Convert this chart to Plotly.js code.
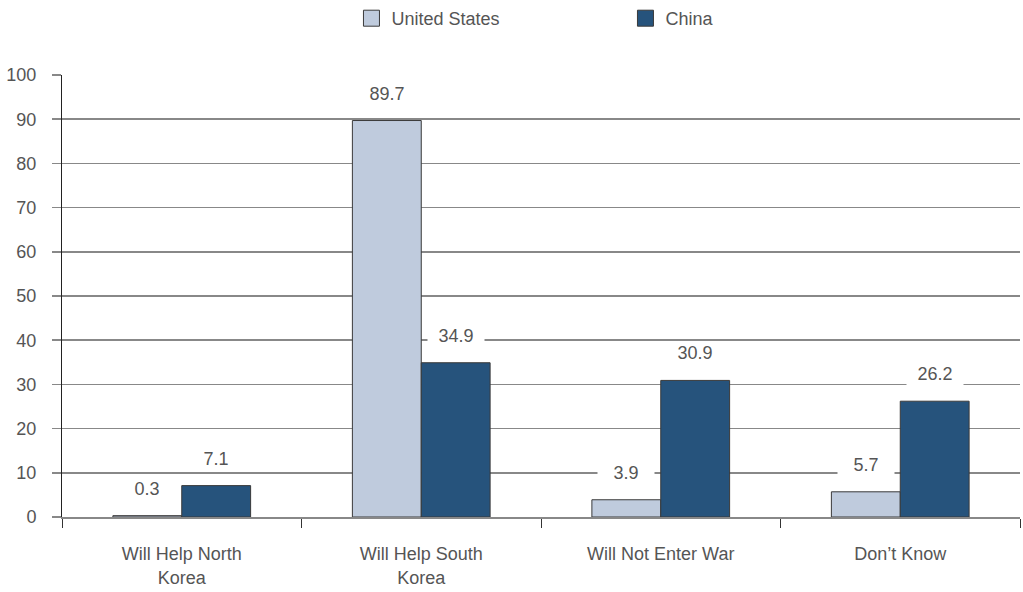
<!DOCTYPE html>
<html><head><meta charset="utf-8">
<script src="https://cdn.plot.ly/plotly-3.0.1.min.js"></script>
<style>html,body{margin:0;padding:0;background:#fff}</style>
</head><body><div id="chart" style="width:1023px;height:592px"></div>
<script>
const categories = ["Will Help North<br>Korea", "Will Help South<br>Korea", "Will Not Enter War", "Don\u2019t Know"];
const usValues = [0.3, 89.7, 3.9, 5.7];
const chinaValues = [7.1, 34.9, 30.9, 26.2];
const seriesNames = ["United States", "China"];
const colors = ["#bfcbdd", "#26537c"];
const textColor = "#555555";
const fontFam = "Liberation Sans, Arial, sans-serif";

const traces = [
  {type:"bar", name:seriesNames[0], x:categories, y:usValues, marker:{color:colors[0], line:{color:"#3a3a3a", width:1}}, showlegend:false, hoverinfo:"none"},
  {type:"bar", name:seriesNames[1], x:categories, y:chinaValues, marker:{color:colors[1], line:{color:"#3a3a3a", width:1}}, showlegend:false, hoverinfo:"none"},
  {type:"scatter", mode:"markers", name:seriesNames[0], x:[null], y:[null], marker:{symbol:"square", size:17, color:colors[0], line:{color:"#3a3a3a", width:1}}},
  {type:"scatter", mode:"markers", name:seriesNames[1], x:[null], y:[null], marker:{symbol:"square", size:17, color:colors[1], line:{color:"#3a3a3a", width:1}}}
];

const annotations = [];
[usValues, chinaValues].forEach((vals, s) => {
  vals.forEach((v, i) => {
    annotations.push({
      x: categories[i], y: v, xref:"x", yref:"y",
      text: v.toFixed(1), showarrow:false,
      xshift: s === 0 ? -34.5 : 34.5, yshift: 27, yanchor:"middle",
      width:56, height:22, align:"center", valign:"middle",
      bgcolor:"#ffffff", borderpad:0,
      font:{family:fontFam, size:18, color:textColor}
    });
  });
});

const layout = {
  width:1023, height:592,
  margin:{l:62, r:3, t:75, b:75},
  paper_bgcolor:"#fff", plot_bgcolor:"#fff",
  font:{family:fontFam, size:18, color:textColor},
  barmode:"group", bargap:0.425, bargroupgap:0,
  showlegend:true,
  legend:{orientation:"h", x:0.6114, xanchor:"center", xref:"container", y:1, yref:"container", yanchor:"top",
          entrywidth:229, entrywidthmode:"pixels", font:{size:18, color:textColor}, itemsizing:"trace"},
  xaxis:{type:"category", tickson:"boundaries", ticks:"outside", ticklen:9, tickcolor:"#333", tickwidth:1,
         showline:true, linecolor:"#888", linewidth:1.5, showgrid:false, ticklabelstandoff:20,
         tickfont:{size:18, color:textColor}},
  yaxis:{range:[0,100], dtick:10, ticks:"outside", ticklen:9, tickcolor:"#888", tickwidth:1.5,
         showgrid:true, gridcolor:"#888", gridwidth:1.5, showline:true, linecolor:"#222", linewidth:1,
         zeroline:false, ticklabelstandoff:12, tickfont:{size:18, color:textColor}, fixedrange:true},
  annotations: annotations
};

Plotly.newPlot("chart", traces, layout, {displayModeBar:false, staticPlot:true});
</script></body></html>
